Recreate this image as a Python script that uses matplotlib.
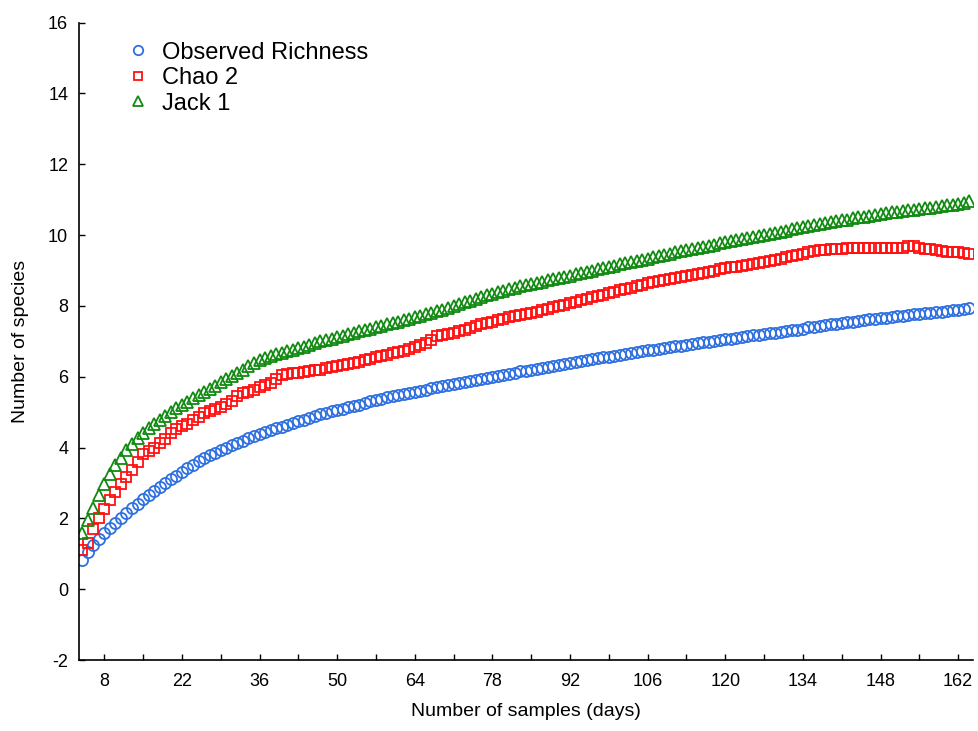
import numpy as np
import matplotlib
matplotlib.use("Agg")
import matplotlib.pyplot as plt

plt.rcParams['font.family'] = ['Liberation Sans', 'DejaVu Sans']
plt.rcParams['axes.unicode_minus'] = False

# sample number (days)
days = list(range(4, 165))

observed = [
    0.82, 1.05, 1.25, 1.43, 1.60, 1.74, 1.88, 2.02, 2.16, 2.29,   # 4-13
    2.42, 2.55, 2.67, 2.78, 2.89, 3.00, 3.10, 3.20, 3.32, 3.42,   # 14-23
    3.52, 3.61, 3.70, 3.78, 3.86, 3.93, 4.00, 4.07, 4.14, 4.20,   # 24-33
    4.26, 4.32, 4.38, 4.44, 4.49, 4.54, 4.59, 4.64, 4.69, 4.74,   # 34-43
    4.79, 4.84, 4.89, 4.94, 4.98, 5.02, 5.06, 5.10, 5.14, 5.18,   # 44-53
    5.21, 5.27, 5.31, 5.35, 5.38, 5.42, 5.45, 5.49, 5.52, 5.55,   # 54-63
    5.58, 5.61, 5.64, 5.67, 5.70, 5.73, 5.76, 5.79, 5.82, 5.85,   # 64-73
    5.88, 5.91, 5.94, 5.97, 6.00, 6.03, 6.06, 6.09, 6.12, 6.15,   # 74-83
    6.17, 6.20, 6.23, 6.26, 6.28, 6.31, 6.34, 6.37, 6.40, 6.42,   # 84-93
    6.45, 6.47, 6.50, 6.52, 6.55, 6.57, 6.60, 6.62, 6.65, 6.67,   # 94-103
    6.70, 6.72, 6.75, 6.77, 6.79, 6.82, 6.84, 6.86, 6.88, 6.91,   # 104-113
    6.93, 6.95, 6.97, 6.99, 7.02, 7.04, 7.06, 7.08, 7.10, 7.12,   # 114-123
    7.14, 7.17, 7.19, 7.21, 7.23, 7.25, 7.27, 7.29, 7.31, 7.33,   # 124-133
    7.35, 7.40, 7.42, 7.44, 7.46, 7.48, 7.50, 7.52, 7.54, 7.56,   # 134-143
    7.58, 7.60, 7.62, 7.64, 7.65, 7.67, 7.69, 7.71, 7.72, 7.74,   # 144-153
    7.76, 7.78, 7.79, 7.81, 7.83, 7.84, 7.86, 7.88, 7.89, 7.91,   # 154-163
    7.93,                                                         # 164
]

chao2 = [
    1.11, 1.32, 1.70, 2.00, 2.28, 2.52, 2.75, 2.97, 3.17, 3.38,   # 4-13
    3.60, 3.82, 3.90, 4.00, 4.12, 4.25, 4.40, 4.52, 4.60, 4.68,   # 14-23
    4.77, 4.86, 4.97, 5.04, 5.10, 5.16, 5.24, 5.32, 5.46, 5.53,   # 24-33
    5.58, 5.64, 5.70, 5.76, 5.82, 5.95, 6.05, 6.08, 6.10, 6.12,   # 34-43
    6.14, 6.16, 6.18, 6.20, 6.24, 6.27, 6.30, 6.32, 6.35, 6.38,   # 44-53
    6.42, 6.46, 6.50, 6.55, 6.59, 6.62, 6.66, 6.70, 6.74, 6.78,   # 54-63
    6.85, 6.90, 6.95, 7.05, 7.15, 7.18, 7.20, 7.24, 7.28, 7.33,   # 64-73
    7.38, 7.43, 7.48, 7.52, 7.56, 7.60, 7.64, 7.68, 7.72, 7.75,   # 74-83
    7.78, 7.81, 7.84, 7.88, 7.92, 7.96, 8.00, 8.04, 8.08, 8.12,   # 84-93
    8.16, 8.20, 8.24, 8.28, 8.32, 8.36, 8.40, 8.44, 8.48, 8.52,   # 94-103
    8.56, 8.60, 8.64, 8.67, 8.70, 8.73, 8.76, 8.79, 8.82, 8.85,   # 104-113
    8.88, 8.91, 8.94, 8.97, 9.00, 9.03, 9.06, 9.09, 9.11, 9.13,   # 114-123
    9.16, 9.19, 9.22, 9.25, 9.28, 9.31, 9.34, 9.37, 9.40, 9.44,   # 124-133
    9.48, 9.52, 9.55, 9.57, 9.59, 9.61, 9.62, 9.62, 9.63, 9.63,   # 134-143
    9.63, 9.63, 9.63, 9.63, 9.63, 9.63, 9.63, 9.64, 9.64, 9.70,   # 144-153
    9.70, 9.64, 9.62, 9.60, 9.57, 9.55, 9.53, 9.52, 9.51, 9.50,   # 154-163
    9.47,                                                         # 164
]

jack1 = [
    1.60, 1.95, 2.30, 2.65, 2.98, 3.25, 3.50, 3.72, 3.92, 4.10,   # 4-13
    4.27, 4.42, 4.55, 4.67, 4.79, 4.90, 5.01, 5.11, 5.21, 5.30,   # 14-23
    5.39, 5.48, 5.57, 5.66, 5.75, 5.84, 5.93, 6.02, 6.11, 6.20,   # 24-33
    6.30, 6.40, 6.48, 6.53, 6.58, 6.63, 6.68, 6.72, 6.76, 6.80,   # 34-43
    6.85, 6.90, 6.95, 7.00, 7.04, 7.08, 7.12, 7.16, 7.20, 7.24,   # 44-53
    7.28, 7.32, 7.36, 7.40, 7.44, 7.48, 7.52, 7.56, 7.60, 7.64,   # 54-63
    7.68, 7.72, 7.76, 7.80, 7.85, 7.90, 7.95, 8.00, 8.05, 8.10,   # 64-73
    8.15, 8.20, 8.25, 8.30, 8.35, 8.39, 8.43, 8.47, 8.51, 8.55,   # 74-83
    8.58, 8.62, 8.65, 8.69, 8.72, 8.76, 8.79, 8.83, 8.86, 8.90,   # 84-93
    8.93, 8.97, 9.00, 9.04, 9.07, 9.11, 9.14, 9.18, 9.21, 9.25,   # 94-103
    9.28, 9.31, 9.34, 9.37, 9.41, 9.44, 9.47, 9.51, 9.54, 9.57,   # 104-113
    9.60, 9.64, 9.67, 9.70, 9.73, 9.77, 9.80, 9.83, 9.86, 9.89,   # 114-123
    9.92, 9.95, 9.98, 10.01, 10.04, 10.07, 10.10, 10.13, 10.16, 10.19,  # 124-133
    10.22, 10.25, 10.28, 10.31, 10.33, 10.36, 10.39, 10.42, 10.44, 10.47,  # 134-143
    10.50, 10.52, 10.55, 10.57, 10.60, 10.62, 10.64, 10.66, 10.68, 10.70,  # 144-153
    10.72, 10.74, 10.76, 10.78, 10.80, 10.82, 10.84, 10.86, 10.88, 10.92,  # 154-163
    10.96,                                                        # 164
]

xticks = list(range(8, 163, 14))
yticks = list(range(-2, 17, 2))

fig = plt.figure(figsize=(9.79, 7.31), dpi=100)
ax = fig.add_axes([0.081, 0.097, 0.913, 0.872])

ax.plot(days, observed, linestyle='none', marker='o', ms=8, mfc='none',
        mec='#2f70e0', mew=1.3, label='Observed Richness')
ax.plot(days, chao2, linestyle='none', marker='s', ms=7, mfc='none',
        mec='#ff1010', mew=1.3, label='Chao 2')
ax.plot(days, jack1, linestyle='none', marker='^', ms=8.5, mfc='none',
        mec='#108a10', mew=1.3, label='Jack 1')

ax.set_xlim(3.5, 164.7)
ax.set_ylim(-2, 16)
ax.set_xticks(xticks)
ax.set_xticks([t + 7 for t in xticks[:-1]], minor=True)
ax.set_yticks(yticks)

for s in ['top', 'right']:
    ax.spines[s].set_visible(False)
for s in ['left', 'bottom']:
    ax.spines[s].set_linewidth(1.2)

ax.tick_params(axis='both', which='both', direction='in', length=4, width=1,
               labelsize=13)
ax.tick_params(axis='x', pad=9)
ax.tick_params(axis='y', pad=8)

ax.set_xlabel('Number of samples (days)', fontsize=14, labelpad=10)
ax.set_ylabel('Number of species', fontsize=14, labelpad=14)

# legend markers a bit smaller than the plotted ones
leg = ax.legend(loc='upper left', bbox_to_anchor=(0.045, 0.985), frameon=False,
                fontsize=17, handlelength=0.8, handletextpad=0.6,
                labelspacing=0.15, borderaxespad=0, markerscale=0.85)

fig.savefig('out.png', dpi=100)
